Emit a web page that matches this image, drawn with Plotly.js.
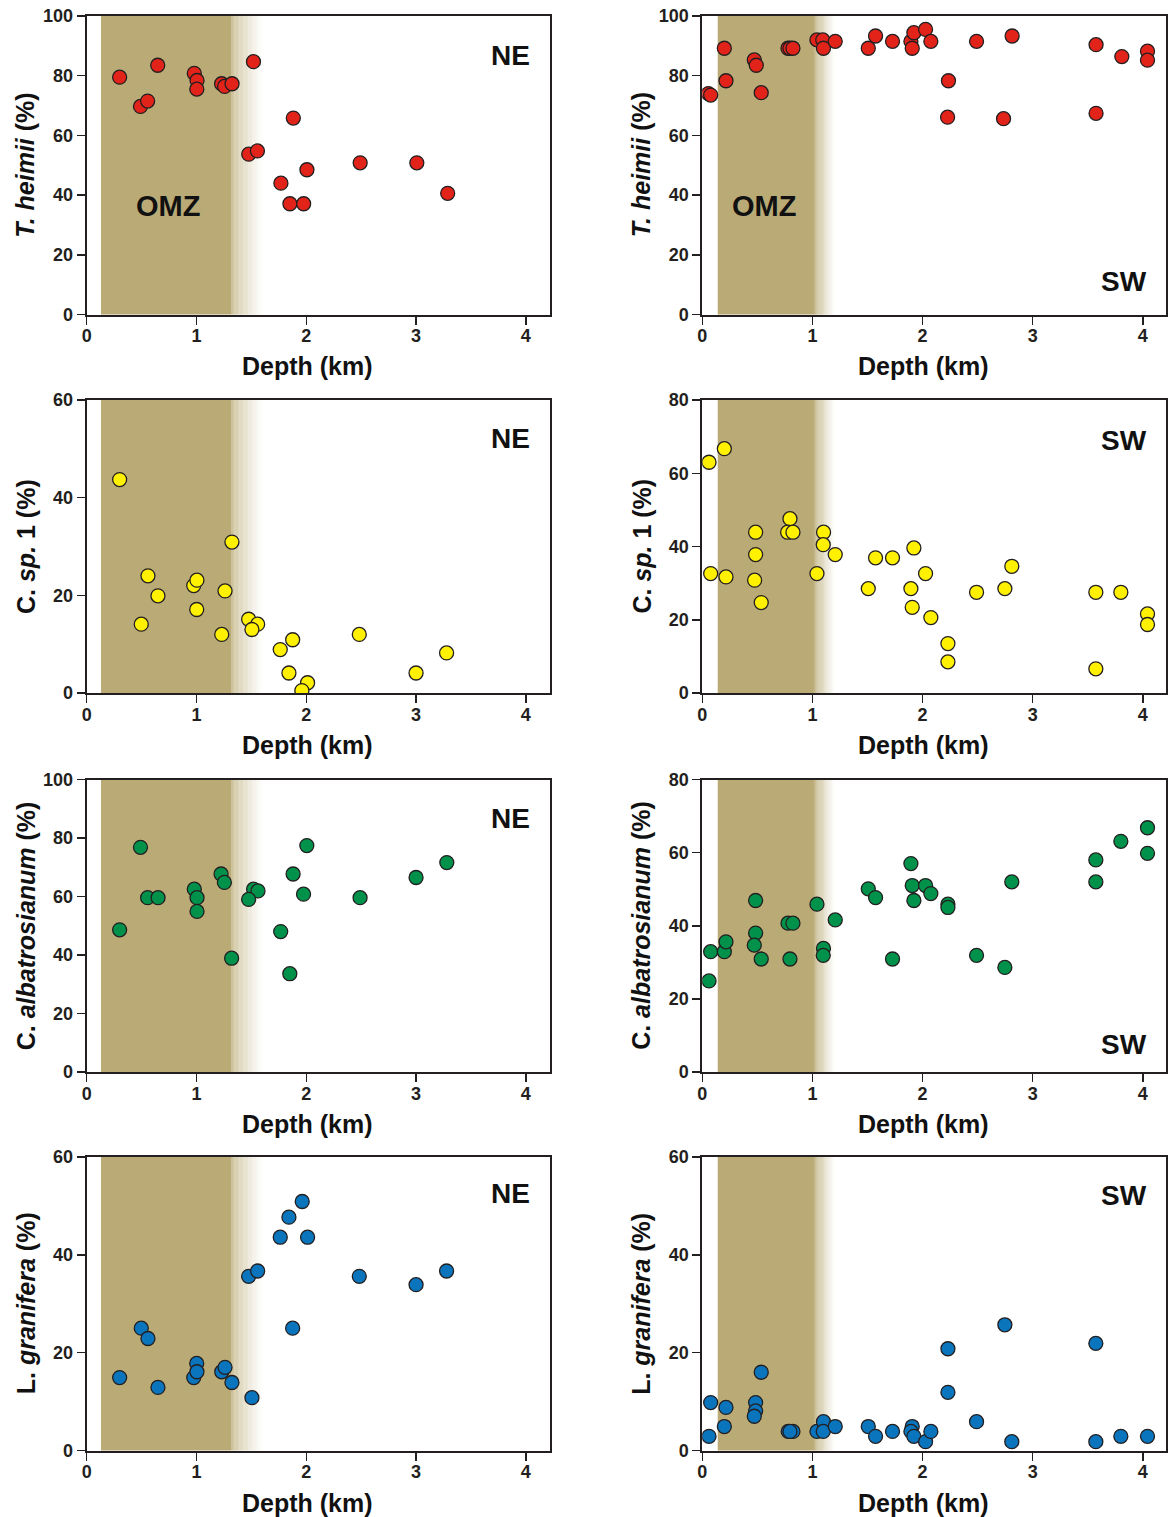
<!DOCTYPE html>
<html>
<head>
<meta charset="utf-8">
<script src="https://cdn.plot.ly/plotly-3.0.1.min.js"></script>
<style>
html,body{margin:0;padding:0;background:#fff;}
#chart{width:1168px;height:1517px;}
</style>
</head>
<body>
<div id="chart"></div>
<script>
// ---------- DATA (depth in km, abundance in %) ----------
// T. heimii
const heimiiNE_depth = [0.30,0.49,0.555,0.647,0.98,1.005,1.003,1.229,1.256,1.324,1.519,1.882,1.476,1.555,1.769,2.006,1.851,1.976,2.491,3.007,3.288];
const heimiiNE_pct   = [79.5,69.7,71.5,83.5,80.8,78.4,75.5,77.3,76.4,77.3,84.7,65.8,53.7,54.8,44.0,48.5,37.1,37.1,50.8,50.8,40.6];
const heimiiSW_depth = [0.055,0.076,0.20,0.215,0.472,0.49,0.535,0.778,0.796,0.823,1.041,1.094,1.10,1.207,1.507,1.573,1.727,1.894,1.906,1.921,2.027,2.075,2.235,2.227,2.49,2.735,2.813,3.575,3.575,3.809,4.042,4.042];
const heimiiSW_pct   = [74.0,73.5,89.2,78.3,85.3,83.5,74.3,89.2,89.2,89.2,92.0,92.0,89.2,91.5,89.2,93.3,91.5,91.5,89.2,94.4,95.5,91.5,78.3,66.1,91.5,65.6,93.3,90.4,67.4,86.4,88.2,85.2];
// C. sp. 1
const csp1NE_depth = [0.30,1.323,0.558,0.649,0.975,1.004,1.002,1.26,0.497,1.23,1.475,1.557,1.505,1.876,1.763,1.842,2.012,1.96,2.483,3.0,3.278];
const csp1NE_pct   = [43.7,30.9,24.0,19.9,22.0,23.1,17.1,20.9,14.1,12.0,15.1,14.1,13.0,10.9,8.9,4.1,2.1,0.5,12.0,4.1,8.2];
const csp1SW_depth = [0.061,0.20,0.076,0.215,0.484,0.484,0.475,0.535,0.796,0.775,0.823,1.101,1.098,1.041,1.207,1.507,1.573,1.727,1.921,1.894,1.906,2.027,2.075,2.23,2.23,2.49,2.747,2.81,3.573,3.573,3.80,4.042,4.042];
const csp1SW_pct   = [63.0,66.7,32.6,31.7,43.9,37.8,30.8,24.7,47.6,43.9,43.9,43.9,40.5,32.6,37.8,28.5,36.9,36.9,39.6,28.5,23.4,32.6,20.6,13.5,8.5,27.5,28.5,34.6,27.5,6.6,27.5,21.6,18.7];
// C. albatrosianum
const albatNE_depth = [0.30,0.49,0.555,0.65,0.98,1.005,1.005,1.224,1.254,1.32,1.52,1.56,1.475,1.767,1.88,1.85,1.975,2.005,2.49,3.0,3.28];
const albatNE_pct   = [48.6,76.8,59.6,59.6,62.5,59.6,54.9,67.7,64.8,38.9,62.5,61.9,59.0,48.0,67.7,33.6,60.8,77.4,59.6,66.5,71.6];
const albatSW_depth = [0.061,0.076,0.20,0.215,0.484,0.484,0.472,0.535,0.778,0.823,0.796,1.041,1.10,1.098,1.207,1.507,1.573,1.727,1.894,1.906,1.921,2.027,2.075,2.23,2.23,2.49,2.747,2.81,3.573,3.573,3.80,4.042,4.042];
const albatSW_pct   = [24.9,32.9,32.9,35.6,46.9,38.0,34.7,30.9,40.7,40.7,30.9,45.9,33.8,31.9,41.6,50.1,47.7,30.9,57.0,51.0,46.9,51.0,48.8,45.9,45.0,31.9,28.6,52.0,58.0,52.0,63.1,66.8,59.8];
// L. granifera
const granNE_depth = [0.30,0.497,0.558,0.649,0.975,1.002,1.004,1.23,1.26,1.323,1.505,1.475,1.557,1.763,1.842,1.963,2.012,1.876,2.483,3.0,3.278];
const granNE_pct   = [14.9,25.0,22.9,12.9,14.9,17.8,16.1,16.1,17.0,13.9,10.8,35.6,36.7,43.6,47.7,50.9,43.6,25.0,35.6,33.9,36.7];
const granSW_depth = [0.061,0.076,0.20,0.215,0.484,0.484,0.472,0.535,0.78,0.823,0.796,1.041,1.10,1.098,1.207,1.507,1.573,1.727,1.906,1.894,1.921,2.027,2.075,2.23,2.23,2.49,2.747,2.81,3.573,3.573,3.80,4.042];
const granSW_pct   = [2.9,9.8,4.9,8.8,9.8,8.1,7.0,16.0,3.9,3.9,3.9,3.9,5.9,3.9,4.9,4.9,2.9,3.9,4.9,3.9,2.9,1.8,3.9,20.8,11.9,5.9,25.7,1.8,21.9,1.8,2.9,2.9];

// ---------- labels ----------
const yTitles = ['<i>T. heimii</i> (%)', '<i>T. heimii</i> (%)', 'C. <i>sp.</i> 1 (%)', 'C. <i>sp.</i> 1 (%)',
                 'C. <i>albatrosianum</i> (%)', 'C. <i>albatrosianum</i> (%)', 'L. <i>granifera</i> (%)', 'L. <i>granifera</i> (%)'];
const xTitle = 'Depth (km)';
const siteLabels = ['NE','SW','NE','SW','NE','SW','NE','SW'];
const omzLabel = 'OMZ';
const yMax = [100,100,60,80,100,80,60,60];

// ---------- styling ----------
const FONT = 'Liberation Sans, Arial, Helvetica, sans-serif';
const INK = '#231F20';
const SHADE = [186,171,118];
const colors = ['#E2231A','#E2231A','#FFF100','#FFF100','#00924A','#00924A','#0A74BD','#0A74BD'];

const panels = [
  [heimiiNE_depth, heimiiNE_pct], [heimiiSW_depth, heimiiSW_pct],
  [csp1NE_depth, csp1NE_pct], [csp1SW_depth, csp1SW_pct],
  [albatNE_depth, albatNE_pct], [albatSW_depth, albatSW_pct],
  [granNE_depth, granNE_pct], [granSW_depth, granSW_pct]
];

const W = 1168, H = 1517;
const colX = [[86.7, 550.0], [702.3, 1166.0]];
const rowY = [[16, 314.5], [400, 693], [779.5, 1072], [1157, 1450.5]];
const xMax = [4.22, 4.21];

const traces = [];
const layout = {
  width: W, height: H,
  margin: {l:0, r:0, t:0, b:0},
  paper_bgcolor: '#fff', plot_bgcolor: 'rgba(0,0,0,0)',
  showlegend: false,
  font: {family: FONT, color: INK},
  shapes: [], annotations: []
};

function mix(c, t) { // t=0 -> c, t=1 -> white
  const r = Math.round(c[0] + (255 - c[0]) * t);
  const g = Math.round(c[1] + (255 - c[1]) * t);
  const b = Math.round(c[2] + (255 - c[2]) * t);
  return `rgb(${r},${g},${b})`;
}

const titleFont = {family: FONT, size: 25, color: '#111', weight: 700};

for (let i = 0; i < 8; i++) {
  const col = i % 2, row = Math.floor(i / 2);
  const sfx = i === 0 ? '' : String(i + 1);
  const xa = 'xaxis' + sfx, ya = 'yaxis' + sfx;
  const xr = 'x' + sfx, yr = 'y' + sfx;
  const [px0, px1] = colX[col];
  const [py0, py1] = rowY[row];

  traces.push({
    type: 'scatter', mode: 'markers',
    x: panels[i][0], y: panels[i][1],
    xaxis: xr, yaxis: yr,
    marker: {size: 14, color: colors[i], line: {color: INK, width: 1.3}},
    hoverinfo: 'x+y'
  });

  const axCommon = {
    showline: true, mirror: true, linewidth: 2, linecolor: INK,
    ticks: 'outside', ticklen: 8, tickwidth: 1.5, tickcolor: INK,
    showgrid: false, zeroline: false,
    tickfont: {family: FONT, size: 18, color: INK, weight: 700}
  };
  layout[xa] = Object.assign({}, axCommon, {
    domain: [px0 / W, px1 / W],
    range: [0, xMax[col]], dtick: 1, tick0: 0,
    anchor: yr, ticklabelstandoff: -4
  });
  layout[ya] = Object.assign({}, axCommon, {
    domain: [1 - py1 / H, 1 - py0 / H],
    range: [0, yMax[i]], dtick: 20, tick0: 0,
    anchor: xr
  });

  // axis titles
  layout.annotations.push({
    xref: 'paper', yref: 'paper',
    x: (px0 + 0.4766 * (px1 - px0)) / W, y: 1 - (py1 + 52) / H,
    xanchor: 'center', yanchor: 'middle', showarrow: false,
    text: xTitle, font: titleFont
  });
  layout.annotations.push({
    xref: 'paper', yref: 'paper',
    x: (px0 - 61.2) / W, y: 1 - ((py0 + py1) / 2) / H,
    xanchor: 'center', yanchor: 'middle', showarrow: false, textangle: -90,
    text: yTitles[i], font: titleFont
  });

  // OMZ shading
  const solid = col === 0 ? [0.13, 1.321] : [0.14, 1.005];
  const fadeEnd = col === 0 ? 1.60 : 1.20;
  const startT = col === 0 ? 0.25 : 0.0;
  layout.shapes.push({
    type: 'rect', xref: xr, yref: yr + ' domain', x0: solid[0], x1: solid[1], y0: 0, y1: 1,
    fillcolor: mix(SHADE, 0), line: {width: 0}, layer: 'below'
  });
  const N = 24;
  for (let k = 0; k < N; k++) {
    const a = solid[1] + (fadeEnd - solid[1]) * k / N;
    const b = solid[1] + (fadeEnd - solid[1]) * (k + 1) / N;
    const f = (k + 0.5) / N;
    const t = startT + (1 - startT) * Math.pow(f, 0.8);
    layout.shapes.push({
      type: 'rect', xref: xr, yref: yr + ' domain', x0: a, x1: b + 0.002, y0: 0, y1: 1,
      fillcolor: mix(SHADE, Math.min(1, t)), line: {width: 0}, layer: 'below'
    });
  }

  // site label
  const siteY = [0.869, 0.112, 0.867, 0.862, 0.867, 0.093, 0.874, 0.869][i];
  layout.annotations.push({
    xref: xr + ' domain', yref: yr + ' domain',
    x: col === 0 ? 0.914 : 0.910, y: siteY,
    xanchor: 'center', yanchor: 'middle', showarrow: false,
    text: siteLabels[i], font: {family: FONT, size: 28, color: '#111', weight: 700}
  });
  if (row === 0) {
    layout.annotations.push({
      xref: xr + ' domain', yref: yr + ' domain',
      x: col === 0 ? 0.1755 : 0.134, y: 0.365,
      xanchor: 'center', yanchor: 'middle', showarrow: false,
      text: omzLabel, font: {family: FONT, size: 29, color: '#111', weight: 700}
    });
  }
}

Plotly.newPlot('chart', traces, layout, {displayModeBar: false, staticPlot: true});
</script>
</body>
</html>
